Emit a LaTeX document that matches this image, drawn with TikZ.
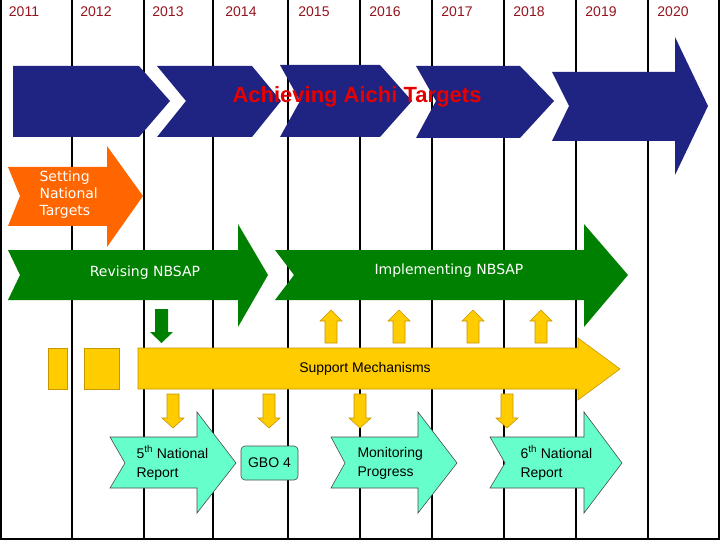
\documentclass[tikz,border=0pt]{standalone}
\usepackage{fontspec}
\setmainfont{Liberation Sans}
\newfontfamily\verd{DejaVu Sans}
\definecolor{navy}{RGB}{31,35,130}
\definecolor{yr}{RGB}{150,20,30}
\definecolor{aichi}{RGB}{230,0,0}
\definecolor{orng}{RGB}{255,102,0}
\definecolor{grn}{RGB}{0,128,0}
\definecolor{yel}{RGB}{255,204,0}
\definecolor{yelo}{RGB}{200,150,0}
\definecolor{aqua}{RGB}{102,255,204}
\begin{document}
\begin{tikzpicture}[x=1pt,y=-1pt,
  yearlbl/.style={text=yr,font=\fontsize{14}{14}\selectfont},
  wlbl/.style={text=white,font=\verd\fontsize{14}{17}\selectfont,align=left},
  blbl/.style={text=black,font=\fontsize{14}{19}\selectfont,align=left},
  bluesh/.style={fill=navy},
  yelsh/.style={fill=yel,draw=yelo,line width=0.6pt},
  aquash/.style={fill=aqua,draw=black!70,line width=0.6pt}]
\useasboundingbox (0,0) rectangle (720,540);
\fill[white] (0,0) rectangle (720,540);
% grid
\foreach \x in {72,144,213,288,360,432,504,576,648} \draw[line width=1.2pt] (\x,0) -- (\x,540);
\draw[line width=1.5pt] (1,0) -- (1,539) -- (719,539) -- (719,0);
\foreach \x/\y in {24/2011,96/2012,168/2013,241/2014,314/2015,385/2016,457/2017,529/2018,601/2019,673/2020}
  \node[yearlbl] (y\y) at (\x,12) {\y};
% blue
\fill[bluesh] (13,66) -- (139,66) -- (170,101) -- (139,137) -- (13,137) -- cycle;
\fill[bluesh] (157,66) -- (252,66) -- (281,101) -- (252,137) -- (157,137) -- (186,101) -- cycle;
\fill[bluesh] (280,65) -- (380,65) -- (412,101) -- (380,137) -- (280,137) -- (300,101) -- cycle;
\fill[bluesh] (416,66) -- (520,66) -- (554,101) -- (520,138) -- (416,138) -- (436,101) -- cycle;
\fill[bluesh] (552,72) -- (675,72) -- (675,37) -- (708,106) -- (675,175) -- (675,141) -- (552,141) -- (569,106) -- cycle;
\node[text=aichi,font=\bfseries\fontsize{22}{22}\selectfont] (aichi) at (357,97) {Achieving Aichi Targets};
% orange
\fill[orng] (8,167) -- (107,167) -- (107,146) -- (143,196) -- (107,247) -- (107,226) -- (8,226) -- (20,196) -- cycle;
\node[wlbl,anchor=west] (snt) at (36,195) {Setting\\National\\Targets};
% green
\fill[grn] (8,250) -- (238,250) -- (238,224) -- (268,275) -- (238,327) -- (238,300) -- (8,300) -- (20,275) -- cycle;
\fill[grn] (275,250) -- (584,250) -- (584,224) -- (628,275) -- (584,327) -- (584,300) -- (275,300) -- (294,275) -- cycle;
\node[wlbl] (rev) at (145,273) {Revising NBSAP};
\node[wlbl] (imp) at (449,271) {Implementing NBSAP};
% small green down arrow
\fill[grn] (155,309) -- (168,309) -- (168,332) -- (173,332) -- (161.5,343) -- (150,332) -- (155,332) -- cycle;
% yellow up arrows
\foreach \c in {331,399,473,541}
  \draw[yelsh] (\c-6,343) -- (\c+6,343) -- (\c+6,321) -- (\c+11,321) -- (\c,310) -- (\c-11,321) -- (\c-6,321) -- cycle;
% yellow rects and support
\draw[yelsh] (48,348) rectangle (67,389);
\draw[yelsh] (84,348) rectangle (119,389);
\draw[yelsh] (138,348) -- (578,348) -- (578,338) -- (620,369) -- (578,400) -- (578,389) -- (138,389) -- cycle;
\node[blbl] (sup) at (365,369) {Support Mechanisms};
% yellow down arrows
\foreach \c in {173,269,360,507}
  \draw[yelsh] (\c-6,394) -- (\c+6,394) -- (\c+6,418) -- (\c+11,418) -- (\c,428) -- (\c-11,418) -- (\c-6,418) -- cycle;
% aqua arrows
\draw[aquash] (110,437) -- (197,437) -- (197,412) -- (236,463) -- (197,513) -- (197,488) -- (110,488) -- (125,463) -- cycle;
\draw[aquash] (331,437) -- (418,437) -- (418,412) -- (457,463) -- (418,513) -- (418,488) -- (331,488) -- (345,463) -- cycle;
\draw[aquash] (490,437) -- (584,437) -- (584,412) -- (622,463) -- (584,513) -- (584,488) -- (490,488) -- (505,463) -- cycle;
\draw[aquash,rounded corners=4pt] (241,446) rectangle (298,480);
\node[blbl,anchor=west] (r5) at (133,463) {5\textsuperscript{th} National\\Report};
\node[blbl] (gbo) at (269.5,463) {GBO 4};
\node[blbl,anchor=west] (mon) at (354,463) {Monitoring\\Progress};
\node[blbl,anchor=west] (r6) at (517,463) {6\textsuperscript{th} National\\Report};
\end{tikzpicture}
\end{document}
